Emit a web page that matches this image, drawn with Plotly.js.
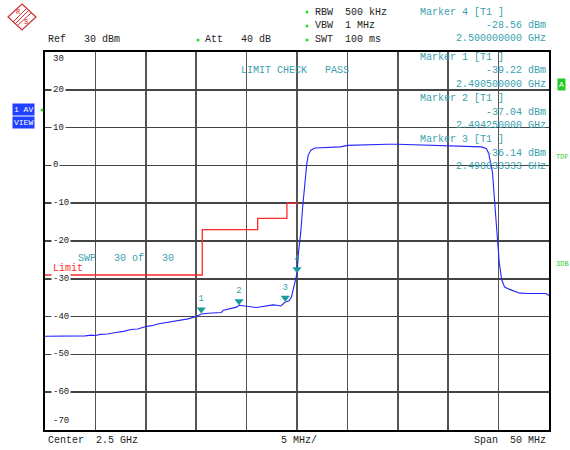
<!DOCTYPE html>
<html>
<head>
<meta charset="utf-8">
<script src="https://cdn.plot.ly/plotly-3.0.1.min.js"></script>
<style>html,body{margin:0;padding:0;background:#fff;}#chart{width:570px;height:450px;}</style>
</head>
<body>
<div id="chart"></div>
<script>
// ---- data ----
const freqGHz = [2.4750,2.4760,2.4770,2.4780,2.4790,2.4796,2.4800,2.4805,2.4812,2.4820,2.4828,2.4835,2.4842,2.4850,2.4856,2.4863,2.4870,2.4878,2.4885,2.4892,2.4900,2.4905,2.4912,2.4920,2.4925,2.4927,2.4933,2.4940,2.49425,2.4948,2.4954,2.4960,2.4965,2.4970,2.4976,2.4980,2.4984,2.4988,2.4992,2.49945,2.49965,2.49985,2.5000,2.50015,2.50037,2.50057,2.5008,2.50096,2.50112,2.5014,2.5018,2.5030,2.5043,2.5050,2.5060,2.5070,2.5080,2.5090,2.5100,2.5110,2.5120,2.5125,2.5135,2.5150,2.5160,2.5170,2.5183,2.5188,2.5190,2.5192,2.5194,2.51964,2.51987,2.52007,2.5203,2.5206,2.5211,2.5221,2.5230,2.5240,2.5247,2.5250];
const levelDbm = [-45.2,-45.2,-45.1,-45.1,-45.1,-44.9,-45.0,-44.7,-44.6,-44.2,-43.9,-43.4,-43.3,-42.6,-42.4,-41.9,-41.6,-41.3,-40.9,-40.6,-40.0,-39.3,-39.1,-39.0,-38.9,-38.3,-38.0,-37.5,-37.0,-37.1,-37.4,-37.6,-37.4,-37.3,-36.9,-37.0,-37.2,-36.2,-35.8,-34.8,-32.5,-30.2,-28.6,-23.0,-17.8,-10.8,-3.8,0.2,2.8,4.1,4.6,4.7,4.9,5.3,5.4,5.5,5.5,5.6,5.6,5.5,5.4,5.3,5.2,5.2,5.1,5.0,4.9,4.4,3.3,0.8,-2.0,-10.8,-19.7,-25.8,-30.2,-32.2,-32.8,-33.8,-33.9,-33.9,-33.9,-34.4];
const limitFreqGHz = [2.4750,2.4906,2.4906,2.4961,2.4961,2.4990,2.4990,2.5001];
const limitDbm = [-29,-29,-17,-17,-14,-14,-10,-10];
const markerIds = ['1','2','3','4'];
const markerFreqGHz = [2.4905,2.49425,2.498833333,2.5];
const markerDbm = [-39.22,-37.04,-36.14,-28.56];
const yTickVals = [30,20,10,0,-10,-20,-30,-40,-50,-60,-70];
const yTickText = ['30','20','10','0','-10','-20','-30','-40','-50','-60','-70'];

// ---- styling helpers ----
const MONO = 'Liberation Mono, DejaVu Sans Mono, monospace';
const TEAL = '#3a9fae';
const L = 45, T = 52, W = 504, H = 378;
const px = x => (x - L) / W;
const py = y => (T + H - y) / H;
function ann(text, x, y, xanchor, color, size, extra) {
  return Object.assign({text: text, xref: 'paper', yref: 'paper', x: px(x), y: py(y),
    xanchor: xanchor, yanchor: 'middle', showarrow: false,
    font: {family: MONO, size: size || 10, color: color || '#222'}}, extra || {});
}
function pathFrom(pts, close) {
  return pts.map((p, i) => (i ? 'L' : 'M') + px(p[0]).toFixed(5) + ',' + py(p[1]).toFixed(5)).join(' ') + (close ? ' Z' : '');
}

const traces = [
  {x: limitFreqGHz, y: limitDbm, mode: 'lines', line: {color: '#ff2a2a', width: 1.3}, hoverinfo: 'skip'},
  {x: freqGHz, y: levelDbm, mode: 'lines', line: {color: '#2424ff', width: 1.1}, hoverinfo: 'skip'},
  {x: markerFreqGHz, y: markerDbm.map(v => v + 1.1), mode: 'markers+text', text: markerIds,
   textposition: 'top center', textfont: {family: MONO, size: 9, color: TEAL},
   marker: {symbol: 'triangle-down', size: 8, color: '#1a9a9a'}, hoverinfo: 'skip'}
];

const annotations = [];
// y labels inside the frame
yTickVals.forEach((v, i) => {
  const a = {text: yTickText[i], xref: 'paper', yref: 'y', x: px(51), y: v, xanchor: 'left', yanchor: 'middle',
    showarrow: false, font: {family: MONO, size: 9, color: '#222'}, bgcolor: '#ffffff', borderpad: 1};
  if (v === 30) { a.yshift = -7; delete a.bgcolor; }
  if (v === -70) { a.yshift = 9; delete a.bgcolor; }
  annotations.push(a);
});
// header
annotations.push(ann('Ref   30 dBm', 46, 40, 'left'));
annotations.push(ann('Att   40 dB', 203, 40, 'left'));
annotations.push(ann('RBW  500 kHz', 313, 12, 'left'));
annotations.push(ann('VBW  1 MHz', 313, 26, 'left'));
annotations.push(ann('SWT  100 ms', 313, 40, 'left'));
// marker readouts
const rows = [[3, 12], [0, 57], [1, 98], [2, 139]];
rows.forEach(r => {
  const k = r[0], y0 = r[1];
  annotations.push(ann('Marker ' + markerIds[k] + ' [T1 ]', 418, y0, 'left', TEAL));
  annotations.push(ann(markerDbm[k].toFixed(2) + ' dBm', 548, y0 + 14, 'right', TEAL));
  annotations.push(ann(markerFreqGHz[k].toFixed(9) + ' GHz', 548, y0 + 27, 'right', TEAL));
});
// other labels
annotations.push(ann('LIMIT CHECK   PASS', 239, 70, 'left', TEAL));
annotations.push(ann('SWP   30 of   30', 76, 258, 'left', TEAL));
annotations.push(ann('Limit', 51, 268, 'left', '#ff2a2a'));
annotations.push(ann('Center  2.5 GHz', 46, 440, 'left'));
annotations.push(ann('5 MHz/', 279, 440, 'left'));
annotations.push(ann('Span  50 MHz', 548, 440, 'right'));
annotations.push(ann('1 AV', 23, 109, 'center', '#ffffff', 8, {bgcolor: '#2040ff', borderpad: 1}));
annotations.push(ann('VIEW', 23, 123, 'center', '#ffffff', 8, {bgcolor: '#2040ff', borderpad: 1}));
annotations.push(ann('A', 561, 84, 'center', '#ffffff', 8, {bgcolor: '#22cc22', borderpad: 1}));
annotations.push(ann('TDF', 562, 157, 'center', '#33cc33', 7));
annotations.push(ann('3DB', 562, 264, 'center', '#33cc33', 7));
annotations.push(ann('R', 18, 12, 'center', '#d02020', 7));
annotations.push(ann('S', 26, 22, 'center', '#d02020', 7));

const dot = (x, y) => ({type: 'circle', xref: 'paper', yref: 'paper', x0: px(x - 1.5), x1: px(x + 1.5), y0: py(y + 1.5), y1: py(y - 1.5), fillcolor: '#22dd22', line: {width: 0}});
const shapes = [
  dot(198, 40), dot(307, 12), dot(307, 26), dot(307, 40), dot(42, 110),
  {type: 'path', xref: 'paper', yref: 'paper', path: pathFrom([[22, 4], [36, 17], [22, 30], [8, 17]], true), line: {color: '#d03030', width: 1.2}},
  {type: 'path', xref: 'paper', yref: 'paper', path: pathFrom([[29, 10], [15, 24]]), line: {color: '#d03030', width: 1}},
  {type: 'path', xref: 'paper', yref: 'paper', path: pathFrom([[31, 13], [17, 26]]), line: {color: '#d03030', width: 1}},
  {type: 'path', xref: 'paper', yref: 'paper', path: pathFrom([[27, 8], [13, 22]]), line: {color: '#d03030', width: 1}}
];

const layout = {
  width: 570, height: 450,
  margin: {l: 45, r: 21, t: 52, b: 20, pad: 0},
  paper_bgcolor: '#ffffff', plot_bgcolor: '#ffffff',
  showlegend: false,
  xaxis: {range: [2.475, 2.525], tick0: 2.475, dtick: 0.005, showgrid: true, gridcolor: '#555555', gridwidth: 1.5,
    showticklabels: false, ticks: '', zeroline: false, showline: true, linecolor: '#000', linewidth: 2, mirror: true, fixedrange: true},
  yaxis: {range: [-70, 30], tick0: -70, dtick: 10, showgrid: true, gridcolor: '#444444', gridwidth: 1.5,
    showticklabels: false, ticks: '', zeroline: false, showline: true, linecolor: '#000', linewidth: 2, mirror: true, fixedrange: true},
  annotations: annotations,
  shapes: shapes
};
Plotly.newPlot('chart', traces, layout, {staticPlot: true, displayModeBar: false});
</script>
</body>
</html>
